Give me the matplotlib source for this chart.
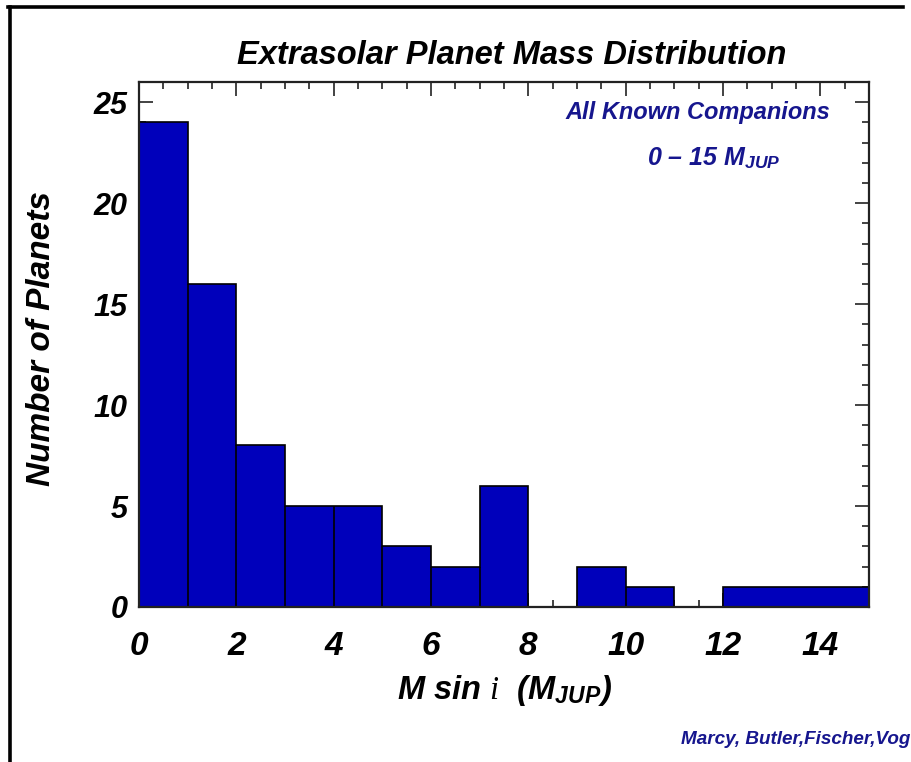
import matplotlib
matplotlib.use("Agg")
import matplotlib.pyplot as plt
from matplotlib.lines import Line2D
from matplotlib.ticker import MultipleLocator
import numpy as np

# Histogram of minimum planet masses (M sin i) in Jupiter masses
bin_edges = list(range(0, 16))
counts = [24, 16, 8, 5, 5, 3, 2, 6, 0, 2, 1, 0, 1, 1, 1]
x_ticks = [0, 2, 4, 6, 8, 10, 12, 14]
y_ticks = [0, 5, 10, 15, 20, 25]

title = "Extrasolar Planet Mass Distribution"
xlabel = r"M sin $\mathit{i}$  (M$_{\mathregular{JUP}}$)"
ylabel = "Number of Planets"
note1 = "All Known Companions"
note2 = r"0 – 15 M$_{\mathregular{JUP}}$"
credit = "Marcy, Butler,Fischer,Vog"

plt.rcParams["font.family"] = ["Liberation Sans", "DejaVu Sans"]
plt.rcParams["mathtext.fontset"] = "custom"
plt.rcParams["mathtext.it"] = "Liberation Serif:italic"
plt.rcParams["mathtext.rm"] = "Liberation Sans:bold:italic"

BAR = "#0000bb"
NAVY = "#16168e"
EDGE = "black"

fig = plt.figure(figsize=(9.11, 7.62), dpi=100)
ax = fig.add_axes([139 / 911, 1 - 607 / 762, 730 / 911, 525 / 762])

edges = np.asarray(bin_edges, dtype=float)
vals = np.asarray(counts, dtype=float)

# filled histogram with its stepped outline
ax.stairs(vals, edges, fill=True, color=BAR, zorder=1)
ax.stairs(vals, edges, fill=False, color=EDGE, linewidth=1.2, zorder=2)
# dividers between neighbouring bars in the low-mass part of the histogram
inner = edges[1:-1]
low = np.minimum(vals[:-1], vals[1:])
keep = (low > 0) & (inner < 12)
ax.vlines(inner[keep], 0, low[keep], color=EDGE, linewidth=1.2, zorder=2)

ax.set_xlim(0, 15)
ax.set_ylim(0, 26)
ax.set_axisbelow(True)

ax.xaxis.set_minor_locator(MultipleLocator(0.5))
ax.yaxis.set_minor_locator(MultipleLocator(1))
ax.set_xticks(x_ticks)
ax.set_yticks(y_ticks)
ax.tick_params(which="both", direction="in", top=True, right=True,
               color="#222222", width=1.2)
ax.tick_params(which="major", length=10)
ax.tick_params(which="minor", length=5)
ax.tick_params(axis="x", pad=17)
ax.tick_params(axis="y", pad=8)
for lab in ax.get_xticklabels():
    lab.set_fontsize(24)
    lab.set_fontweight("bold")
    lab.set_fontstyle("italic")
for lab in ax.get_yticklabels():
    lab.set_fontsize(22)
    lab.set_fontweight("bold")
    lab.set_fontstyle("italic")
for sp in ax.spines.values():
    sp.set_linewidth(1.6)
    sp.set_color("#222222")

fig.text(512 / 911, 1 - 56 / 762, title, ha="center", va="center",
         fontsize=23.5, fontstyle="italic", fontweight="bold")
fig.text(42 / 911, 1 - 339 / 762, ylabel, ha="center", va="center",
         rotation=90, fontsize=24, fontstyle="italic", fontweight="bold")
fig.text(505 / 911, 1 - 691 / 762, xlabel, ha="center", va="center",
         fontsize=23.5, fontstyle="italic", fontweight="bold")

fig.text(830 / 911, 1 - 113 / 762, note1, ha="right", va="center",
         fontsize=17, fontstyle="italic", fontweight="bold", color=NAVY)
fig.text(781 / 911, 1 - 158 / 762, note2, ha="right", va="center",
         fontsize=18, fontstyle="italic", fontweight="bold", color=NAVY)
fig.text(681 / 911, 1 - 740 / 762, credit, ha="left", va="center",
         fontsize=13.6, fontstyle="italic", fontweight="bold", color=NAVY)

# page frame along the top and left edges
fig.add_artist(Line2D([9.5 / 911, 9.5 / 911], [0, 1 - 6.5 / 762],
                      transform=fig.transFigure, color="black", lw=2.6))
fig.add_artist(Line2D([8 / 911, 903 / 911], [1 - 6.5 / 762, 1 - 6.5 / 762],
                      transform=fig.transFigure, color="black", lw=2.6))

fig.savefig("out.png", dpi=100)
